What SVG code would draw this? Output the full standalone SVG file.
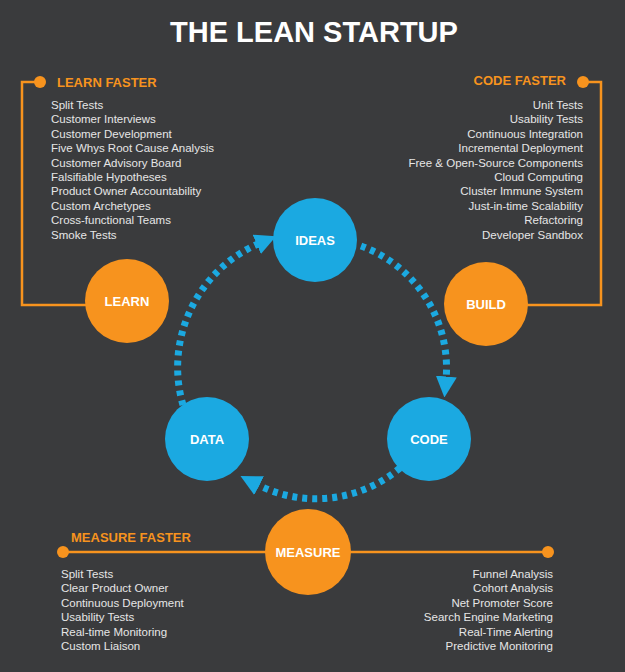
<svg xmlns="http://www.w3.org/2000/svg" width="625" height="672" viewBox="0 0 625 672">
<style>
.t{font-family:"Liberation Sans",Arial,sans-serif;font-size:11.5px;fill:#e6e6e6}
.r{text-anchor:end}
.h{font-family:"Liberation Sans",Arial,sans-serif;font-size:13px;font-weight:bold;fill:#f7931e}
.n{font-family:"Liberation Sans",Arial,sans-serif;font-size:13px;font-weight:bold;fill:#fff;text-anchor:middle}
.o{fill:#f7931e}.b{fill:#1ba9e1}
.ol{stroke:#f7931e;stroke-width:2.5;fill:none}
.d{stroke:#1ba9e1;stroke-width:7;fill:none;stroke-dasharray:5 5}
</style>
<defs><marker id="a" markerWidth="3" markerHeight="3" refX="0.5" refY="1.5" orient="auto" markerUnits="strokeWidth"><path d="M0,0 L3,1.5 L0,3 z" fill="#1ba9e1"/></marker></defs>
<rect width="625" height="672" fill="#3a3b3d"/>
<text x="314" y="42" font-family="Liberation Sans,Arial,sans-serif" font-size="29" font-weight="bold" fill="#fff" text-anchor="middle">THE LEAN STARTUP</text>
<g id="connectors">
<path class="ol" d="M40,82 H22 V305 H100"/>
<path class="ol" d="M583,82 H601 V305 H520"/>
<path class="ol" d="M63,552 H548"/>
<circle class="o" cx="40" cy="82" r="6"/><circle class="o" cx="583" cy="82" r="6"/>
<circle class="o" cx="63" cy="552" r="6"/><circle class="o" cx="548" cy="552" r="6"/>
<path class="d" marker-end="url(#a)" d="M361,246 A130,130 0 0 1 446,380"/>
<path class="d" marker-end="url(#a)" d="M400,468 A130,130 0 0 1 256,484"/>
<path class="d" marker-end="url(#a)" d="M183,405 A135,135 0 0 1 260,243"/>
</g>
<g id="learn-list"><text class="h" x="57" y="87">LEARN FASTER</text>
<text class="t" x="51" y="109">Split Tests</text><text class="t" x="51" y="123.4">Customer Interviews</text><text class="t" x="51" y="137.8">Customer Development</text><text class="t" x="51" y="152.2">Five Whys Root Cause Analysis</text><text class="t" x="51" y="166.6">Customer Advisory Board</text><text class="t" x="51" y="181">Falsifiable Hypotheses</text><text class="t" x="51" y="195.4">Product Owner Accountability</text><text class="t" x="51" y="209.8">Custom Archetypes</text><text class="t" x="51" y="224.2">Cross-functional Teams</text><text class="t" x="51" y="238.6">Smoke Tests</text></g>
<g id="code-list"><text class="h r" x="566" y="85">CODE FASTER</text>
<text class="t r" x="583" y="109">Unit Tests</text><text class="t r" x="583" y="123.4">Usability Tests</text><text class="t r" x="583" y="137.8">Continuous Integration</text><text class="t r" x="583" y="152.2">Incremental Deployment</text><text class="t r" x="583" y="166.6">Free &amp; Open-Source Components</text><text class="t r" x="583" y="181">Cloud Computing</text><text class="t r" x="583" y="195.4">Cluster Immune System</text><text class="t r" x="583" y="209.8">Just-in-time Scalability</text><text class="t r" x="583" y="224.2">Refactoring</text><text class="t r" x="583" y="238.6">Developer Sandbox</text></g>
<g id="measure-list"><text class="h" x="71" y="542">MEASURE FASTER</text>
<text class="t" x="61" y="578">Split Tests</text><text class="t" x="61" y="592.4">Clear Product Owner</text><text class="t" x="61" y="606.8">Continuous Deployment</text><text class="t" x="61" y="621.2">Usability Tests</text><text class="t" x="61" y="635.6">Real-time Monitoring</text><text class="t" x="61" y="650">Custom Liaison</text>
<text class="t r" x="553" y="578">Funnel Analysis</text><text class="t r" x="553" y="592.4">Cohort Analysis</text><text class="t r" x="553" y="606.8">Net Promoter Score</text><text class="t r" x="553" y="621.2">Search Engine Marketing</text><text class="t r" x="553" y="635.6">Real-Time Alerting</text><text class="t r" x="553" y="650">Predictive Monitoring</text></g>
<g id="ideas"><circle class="b" cx="315" cy="240" r="42"/><text class="n" x="315" y="245">IDEAS</text></g>
<g id="code"><circle class="b" cx="429" cy="439" r="42"/><text class="n" x="429" y="444">CODE</text></g>
<g id="data"><circle class="b" cx="207" cy="439" r="42"/><text class="n" x="207" y="444">DATA</text></g>
<g id="learn"><circle class="o" cx="127" cy="301" r="42"/><text class="n" x="127" y="306">LEARN</text></g>
<g id="build"><circle class="o" cx="486" cy="304" r="42"/><text class="n" x="486" y="309">BUILD</text></g>
<g id="measure"><circle class="o" cx="308" cy="552" r="43"/><text class="n" x="308" y="557">MEASURE</text></g>
</svg>
